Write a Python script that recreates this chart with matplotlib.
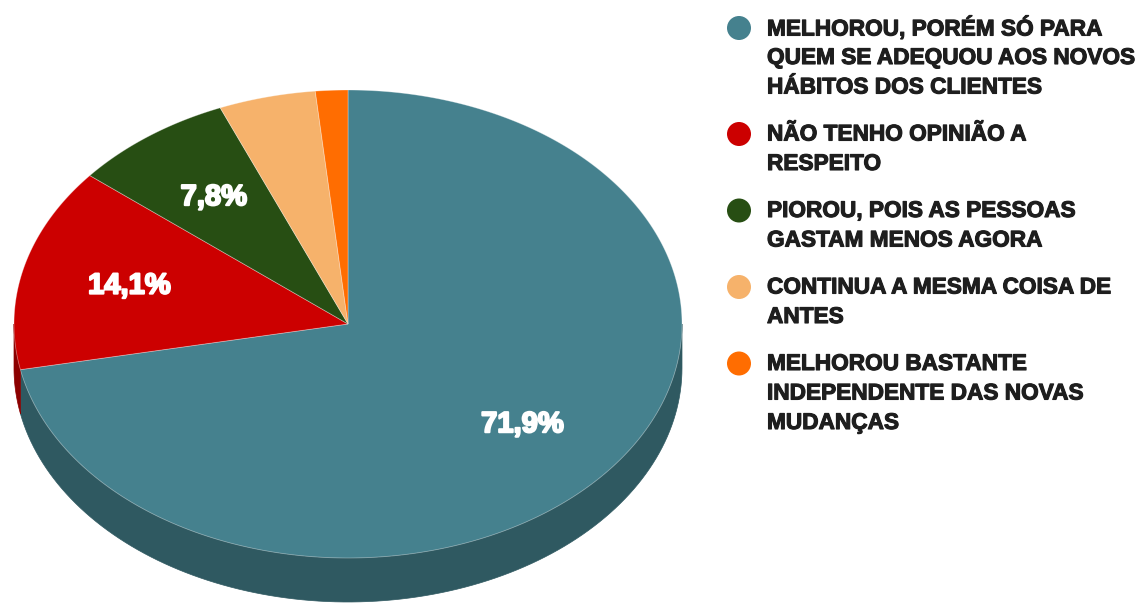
import numpy as np
import matplotlib
matplotlib.use("Agg")
import matplotlib.pyplot as plt
from matplotlib.patches import Polygon, Circle
import matplotlib.patheffects as pe

labels = [
    "MELHOROU, PORÉM SÓ PARA\nQUEM SE ADEQUOU AOS NOVOS\nHÁBITOS DOS CLIENTES",
    "NÃO TENHO OPINIÃO A\nRESPEITO",
    "PIOROU, POIS AS PESSOAS\nGASTAM MENOS AGORA",
    "CONTINUA A MESMA COISA DE\nANTES",
    "MELHOROU BASTANTE\nINDEPENDENTE DAS NOVAS\nMUDANÇAS",
]
values = [46, 9, 5, 3, 1]
colors = ["#45818e", "#cc0000", "#274e13", "#f6b26b", "#ff6d01"]
side_colors = ["#2f5961", "#8c0000", "#1a360d", "#a97a49", "#b04b01"]

plt.rcParams['font.family'] = ['Liberation Sans', 'DejaVu Sans']

fig = plt.figure(figsize=(11.4, 6.03), dpi=100)
ax = fig.add_axes([0, 0, 1, 1])
ax.set_xlim(0, 1140)
ax.set_ylim(603, 0)
ax.axis('off')

cx, cy, rx, ry, depth = 348, 324, 334, 234, 44

vals = np.array(values, dtype=float)
fracs = vals / vals.sum()
starts = np.concatenate([[0], np.cumsum(fracs)[:-1]]) * 360
ends = np.cumsum(fracs) * 360


def pt(phi_deg, dy=0.0):
    p = np.radians(phi_deg)
    return cx + rx * np.sin(p), cy - ry * np.cos(p) + dy


# side walls (visible front: phi in [90, 270])
for a, b, sc in zip(starts, ends, side_colors):
    lo, hi = max(a, 90), min(b, 270)
    if hi <= lo:
        continue
    ph = np.linspace(lo, hi, 120)
    top = np.array([pt(p) for p in ph])
    bot = np.array([pt(p, depth) for p in ph[::-1]])
    ax.add_patch(Polygon(np.vstack([top, bot]), closed=True, facecolor=sc,
                         edgecolor=sc, linewidth=0.5))

# top faces
for a, b, c in zip(starts, ends, colors):
    ph = np.linspace(a, b, max(int((b - a) * 2), 4))
    arc = np.array([pt(p) for p in ph])
    poly = np.vstack([[cx, cy], arc])
    ax.add_patch(Polygon(poly, closed=True, facecolor=c,
                         edgecolor=(1, 1, 1, 0.35), linewidth=0.6))

# percentage labels
for a, b, f in zip(starts, ends, fracs):
    if f < 0.05:
        continue
    mid = (a + b) / 2
    p = np.radians(mid)
    x = cx + 0.675 * rx * np.sin(p)
    y = cy - 0.675 * ry * np.cos(p)
    txt = f"{f*100:.1f}%".replace(".", ",")
    ax.text(x, y, txt, color="white", fontsize=21, fontweight="bold",
            ha="center", va="center",
            path_effects=[pe.withStroke(linewidth=1.5, foreground="white")])

# legend
y = 28
line_h = 29.5
for lab, c in zip(labels, colors):
    ax.add_patch(Circle((739, y), 12, facecolor=c, edgecolor="none"))
    lines = lab.split("\n")
    for i, ln in enumerate(lines):
        ax.text(767, y + i * line_h, ln, color="#1e1e1e", fontsize=16.3,
                fontweight="bold", ha="left", va="center",
                path_effects=[pe.withStroke(linewidth=0.8, foreground="#1e1e1e")])
    y += len(lines) * line_h + 17.5

fig.savefig("out.png", dpi=100)
